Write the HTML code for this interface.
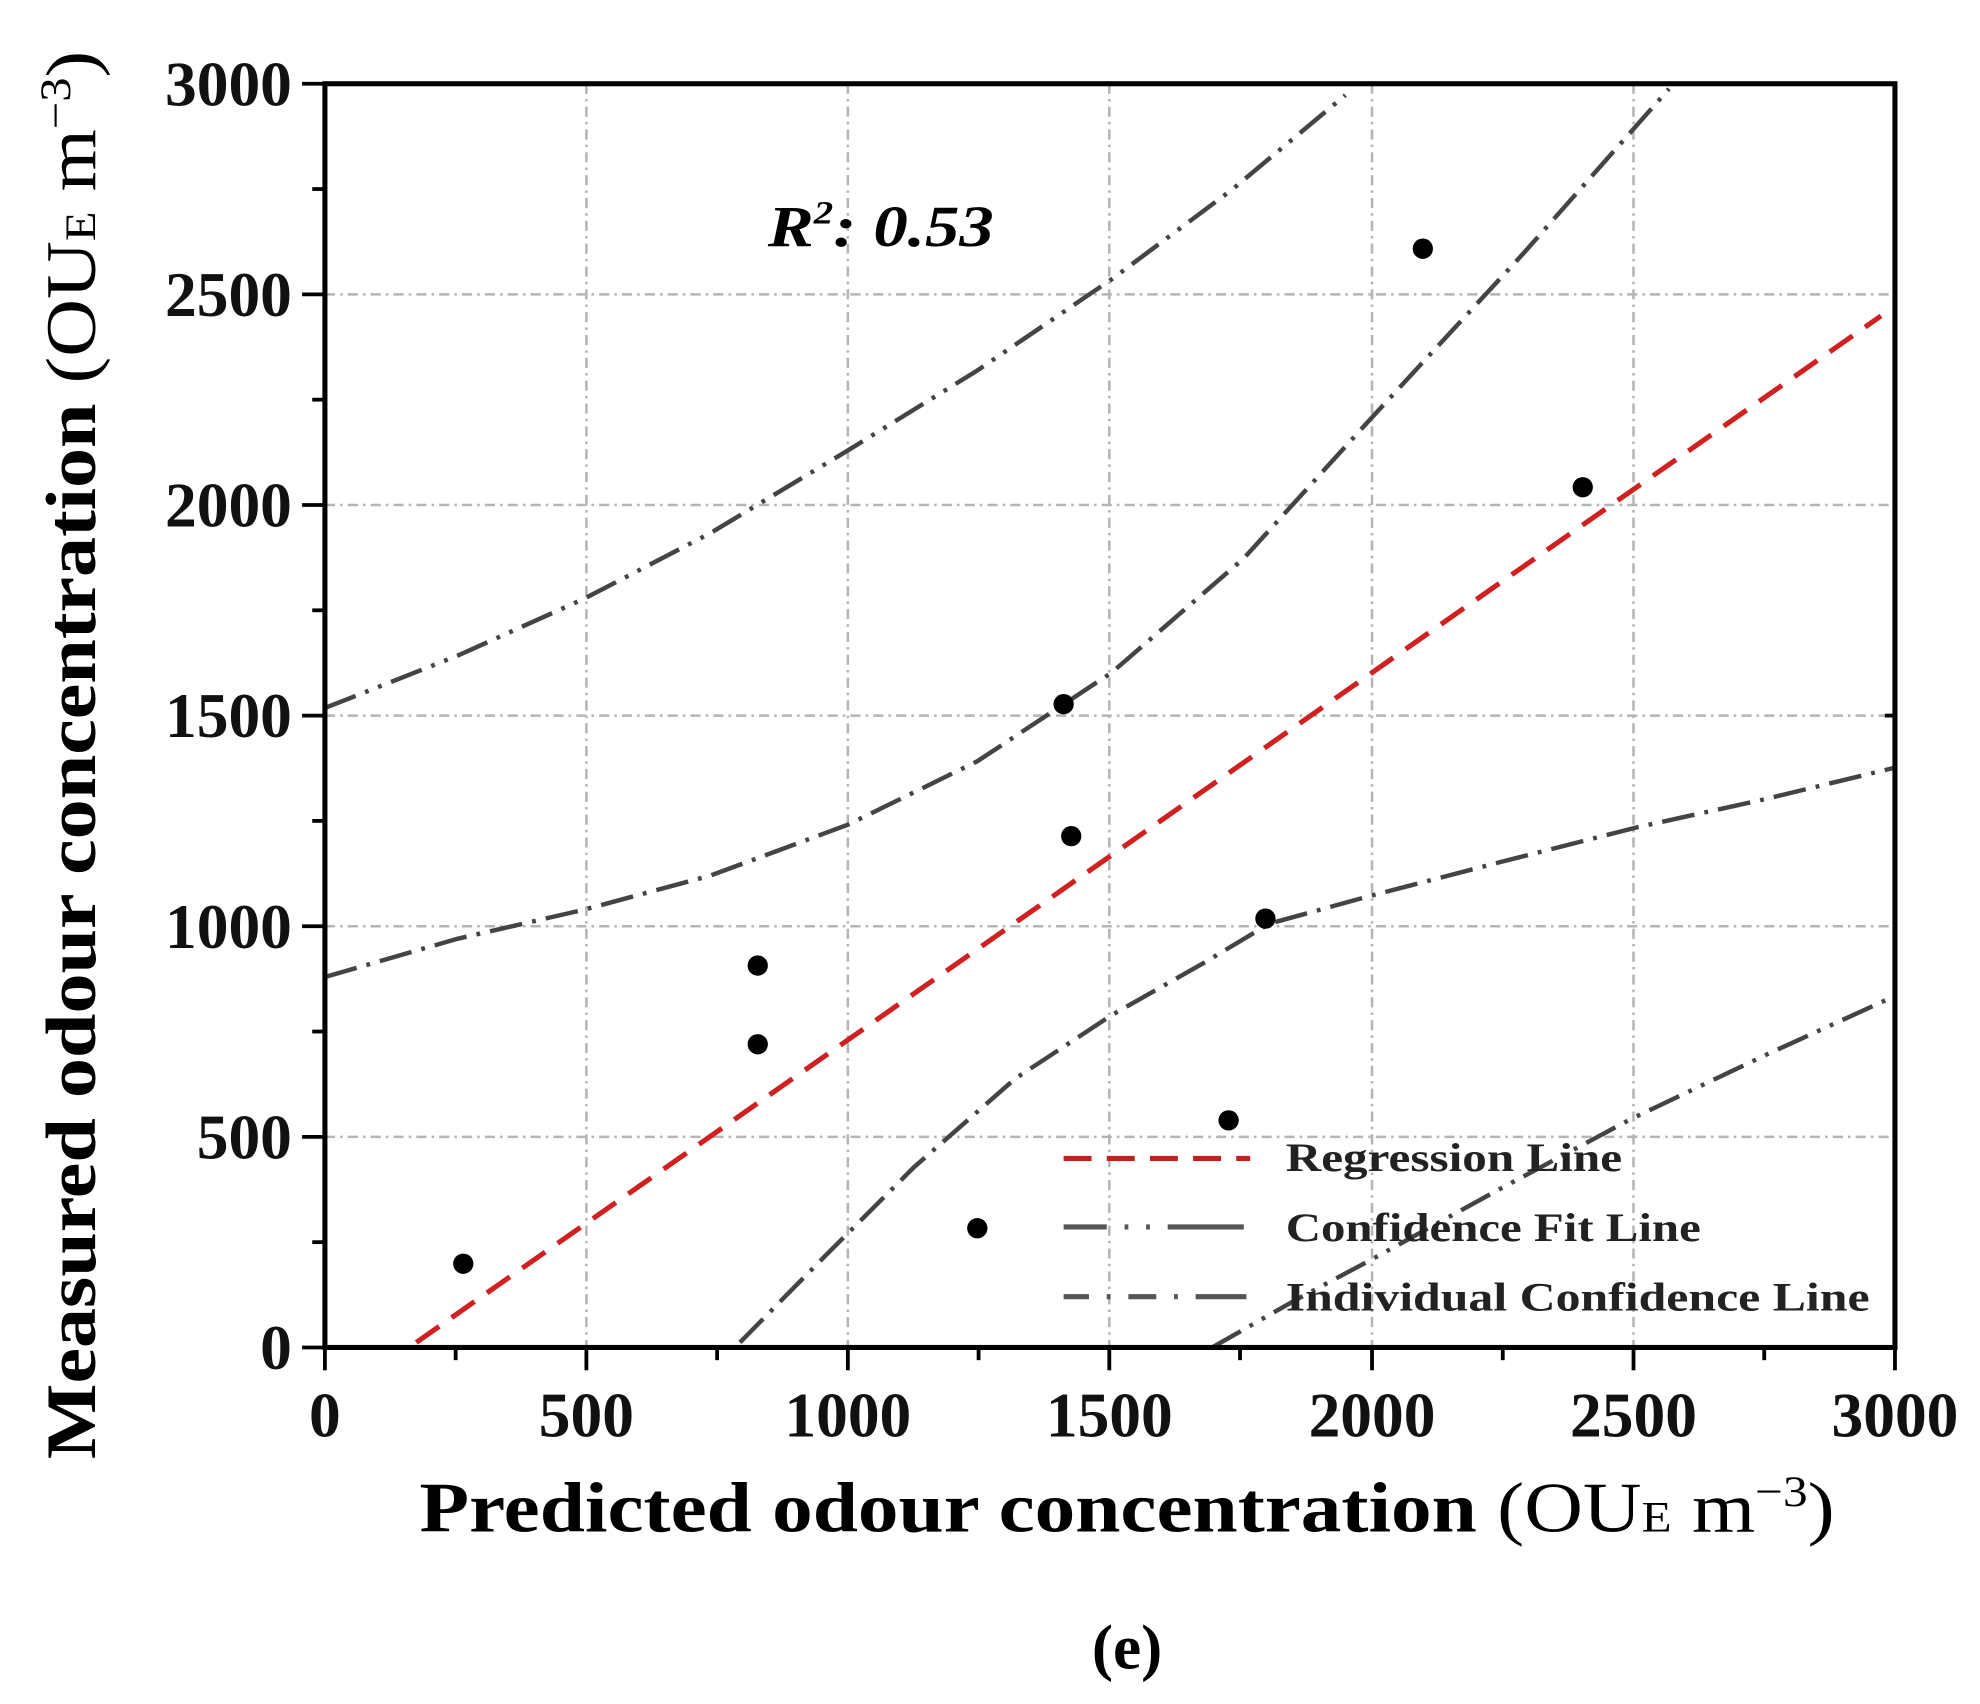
<!DOCTYPE html>
<html><head><style>html,body{margin:0;padding:0;background:#fff}svg{display:block}</style></head>
<body>
<svg width="1980" height="1704" viewBox="0 0 1560 1343" preserveAspectRatio="none" xmlns="http://www.w3.org/2000/svg" font-family="'Liberation Serif',serif">
<rect width="1560" height="1343" fill="#fff"/>
<g stroke="#b5b5b5" stroke-width="2" stroke-dasharray="8,4,2,4" fill="none">
<line x1="462" y1="66" x2="462" y2="1062"/><line x1="668" y1="66" x2="668" y2="1062"/><line x1="874" y1="66" x2="874" y2="1062"/><line x1="1081" y1="66" x2="1081" y2="1062"/><line x1="1287" y1="66" x2="1287" y2="1062"/>
<line x1="256" y1="896" x2="1493" y2="896"/><line x1="256" y1="730" x2="1493" y2="730"/><line x1="256" y1="564" x2="1493" y2="564"/><line x1="256" y1="398" x2="1493" y2="398"/><line x1="256" y1="232" x2="1493" y2="232"/>
</g>
<g fill="none" stroke="#444" stroke-width="3.5">
<polyline stroke-dasharray="26,8,3,8,3,8" points="256,558 360,517 460,472 560,420 668,355 770,292 876,220 970,150 1060,75"/>
<polyline stroke-dasharray="26,8,3,8,3,8" points="955,1062 1020,1025 1080,993 1180,938 1285,882 1390,832 1493,785"/>
<polyline stroke-dasharray="26,8,3,8" points="256,770 360,740 460,717 560,690 668,650 770,600 876,530 980,440 1080,330 1200,200 1315,70"/>
<polyline stroke-dasharray="26,8,3,8" points="583,1058 650,990 720,920 800,850 876,800 950,758 1000,728 1080,706 1180,680 1290,652 1390,630 1493,605"/>
</g>
<line x1="328" y1="1058" x2="1482" y2="249" stroke="#d02020" stroke-width="4" stroke-dasharray="22,12"/>
<g fill="#000">
<circle cx="365" cy="996" r="8"/><circle cx="597" cy="761" r="8"/><circle cx="597" cy="823" r="8"/><circle cx="770" cy="968" r="8"/><circle cx="838" cy="555" r="8"/><circle cx="844" cy="659" r="8"/><circle cx="968" cy="883" r="8"/><circle cx="997" cy="724" r="8"/><circle cx="1121" cy="196" r="8"/><circle cx="1247" cy="384" r="8"/>
</g>
<rect x="256" y="66" width="1237" height="996" fill="none" stroke="#000" stroke-width="4"/>
<g stroke="#000" stroke-width="3">
<line x1="256" y1="1062" x2="256" y2="1080"/><line x1="462" y1="1062" x2="462" y2="1080"/><line x1="668" y1="1062" x2="668" y2="1080"/><line x1="874" y1="1062" x2="874" y2="1080"/><line x1="1081" y1="1062" x2="1081" y2="1080"/><line x1="1287" y1="1062" x2="1287" y2="1080"/><line x1="1493" y1="1062" x2="1493" y2="1080"/>
<line x1="359" y1="1062" x2="359" y2="1072"/><line x1="565" y1="1062" x2="565" y2="1072"/><line x1="771" y1="1062" x2="771" y2="1072"/><line x1="977" y1="1062" x2="977" y2="1072"/><line x1="1184" y1="1062" x2="1184" y2="1072"/><line x1="1390" y1="1062" x2="1390" y2="1072"/>
<line x1="238" y1="1062" x2="256" y2="1062"/><line x1="238" y1="896" x2="256" y2="896"/><line x1="238" y1="730" x2="256" y2="730"/><line x1="238" y1="564" x2="256" y2="564"/><line x1="238" y1="398" x2="256" y2="398"/><line x1="238" y1="232" x2="256" y2="232"/><line x1="238" y1="66" x2="256" y2="66"/>
<line x1="246" y1="979" x2="256" y2="979"/><line x1="246" y1="813" x2="256" y2="813"/><line x1="246" y1="647" x2="256" y2="647"/><line x1="246" y1="481" x2="256" y2="481"/><line x1="246" y1="315" x2="256" y2="315"/><line x1="246" y1="149" x2="256" y2="149"/>
<line x1="1493" y1="564" x2="1485" y2="564"/>
</g>
<g font-size="50" font-weight="bold" fill="#111" text-anchor="middle">
<text x="256" y="1132">0</text><text x="462" y="1132">500</text><text x="668" y="1132">1000</text><text x="874" y="1132">1500</text><text x="1081" y="1132">2000</text><text x="1287" y="1132">2500</text><text x="1493" y="1132">3000</text>
</g>
<g font-size="50" font-weight="bold" fill="#111" text-anchor="end">
<text x="230" y="1079">0</text><text x="230" y="913">500</text><text x="230" y="747">1000</text><text x="230" y="581">1500</text><text x="230" y="415">2000</text><text x="230" y="249">2500</text><text x="230" y="83">3000</text>
</g>
<text x="888" y="1207" font-size="56" font-weight="bold" text-anchor="middle" textLength="1115" lengthAdjust="spacingAndGlyphs">Predicted odour concentration <tspan font-weight="normal">(OU<tspan font-size="34">E</tspan> m<tspan font-size="34" dy="-20">−3</tspan><tspan dy="20">)</tspan></tspan></text>
<text transform="translate(75,595) rotate(-90)" font-size="56" font-weight="bold" text-anchor="middle" textLength="1110" lengthAdjust="spacingAndGlyphs">Measured odour concentration <tspan font-weight="normal">(OU<tspan font-size="34">E</tspan> m<tspan font-size="34" dy="-20">−3</tspan><tspan dy="20">)</tspan></tspan></text>
<text x="888" y="1315" font-size="50" font-weight="bold" text-anchor="middle">(e)</text>
<text x="605" y="194" font-size="46" font-weight="bold" font-style="italic" textLength="178" lengthAdjust="spacingAndGlyphs">R<tspan font-size="26" dy="-18">2</tspan><tspan dy="18">: 0.53</tspan></text>
<g stroke-width="4" fill="none">
<line x1="838" y1="913" x2="985" y2="913" stroke="#c02020" stroke-dasharray="22,12"/>
<line x1="838" y1="967" x2="985" y2="967" stroke="#555" stroke-dasharray="34,14,3,14,3,14,60"/>
<line x1="838" y1="1022" x2="985" y2="1022" stroke="#555" stroke-dasharray="20,14,3,14,22,14,3,14,40"/>
</g>
<g font-size="32" fill="#222" font-weight="bold">
<text x="1013" y="923" textLength="265" lengthAdjust="spacingAndGlyphs">Regression Line</text>
<text x="1013" y="978" textLength="327" lengthAdjust="spacingAndGlyphs">Confidence Fit Line</text>
<text x="1013" y="1033" textLength="460" lengthAdjust="spacingAndGlyphs">Individual Confidence Line</text>
</g>
</svg>
</body></html>
